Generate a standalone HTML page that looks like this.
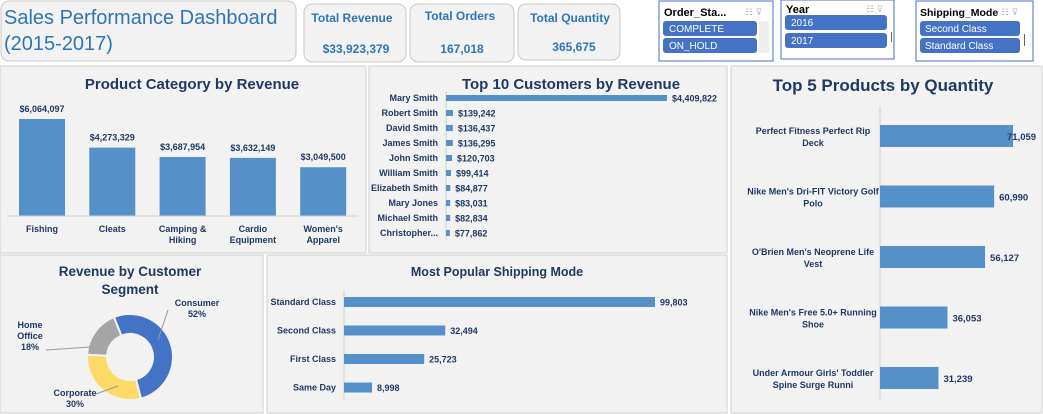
<!DOCTYPE html>
<html><head><meta charset="utf-8">
<style>
html,body{margin:0;padding:0;background:#fff;width:1043px;height:414px;overflow:hidden;font-family:"Liberation Sans",sans-serif;}
svg text{font-family:"Liberation Sans",sans-serif;}
</style></head>
<body>
<svg id="s" width="1043" height="414" viewBox="0 0 1043 414" xmlns="http://www.w3.org/2000/svg">
<rect x="0" y="0" width="1043" height="414" fill="#ffffff"/>
<!-- header -->
<g>
<rect x="1" y="1" width="295" height="60" rx="8" fill="#f2f2f2" stroke="#c8c8c8"/>
<text x="4" y="24" font-size="20" fill="#2e75b6">Sales Performance Dashboard</text>
<text x="4" y="50" font-size="20" fill="#2e75b6">(2015-2017)</text>
<g>
<rect x="304" y="4" width="102" height="58" rx="8" fill="#f2f2f2" stroke="#c8c8c8"/>
<text x="352" y="22" font-size="12" font-weight="bold" fill="#2e75b6" text-anchor="middle">Total Revenue</text>
<text x="356" y="53" font-size="12" font-weight="bold" fill="#2e75b6" text-anchor="middle">$33,923,379</text></g>
<g>
<rect x="410" y="4" width="104" height="58" rx="8" fill="#f2f2f2" stroke="#c8c8c8"/>
<text x="460" y="20" font-size="12" font-weight="bold" fill="#2e75b6" text-anchor="middle">Total Orders</text>
<text x="462" y="53" font-size="12" font-weight="bold" fill="#2e75b6" text-anchor="middle">167,018</text></g>
<g>
<rect x="518" y="4" width="102" height="56" rx="8" fill="#f2f2f2" stroke="#c8c8c8"/>
<text x="570" y="22" font-size="12" font-weight="bold" fill="#2e75b6" text-anchor="middle">Total Quantity</text>
<text x="574" y="51" font-size="12" font-weight="bold" fill="#2e75b6" text-anchor="middle">365,675</text></g>
<g>
<rect x="659" y="1" width="114" height="60" fill="#fff" stroke="#4472c4"/>
<text x="664" y="16" font-size="11" font-weight="bold" fill="#000">Order_Sta...</text>
<text x="745" y="15" font-size="9" fill="#bbb">☷ ⊽</text>
<rect x="663" y="21" width="94" height="15" rx="3" fill="#4472c4"/>
<text x="669" y="32" font-size="10" fill="#fff">COMPLETE</text>
<rect x="663" y="38" width="94" height="15" rx="3" fill="#4472c4"/>
<text x="669" y="49" font-size="10" fill="#fff">ON_HOLD</text>
<rect x="759" y="21" width="10" height="32" fill="#eee"/></g>
<g>
<rect x="781" y="0" width="113" height="59" fill="#fff" stroke="#4472c4"/>
<text x="786" y="13" font-size="11" font-weight="bold" fill="#000">Year</text>
<text x="866" y="12" font-size="9" fill="#bbb">☷ ⊽</text>
<rect x="785" y="15" width="102" height="15" rx="3" fill="#4472c4"/>
<text x="791" y="26" font-size="10" fill="#fff">2016</text>
<rect x="785" y="33" width="102" height="15" rx="3" fill="#4472c4"/>
<text x="791" y="44" font-size="10" fill="#fff">2017</text>
<rect x="891" y="32" width="1" height="10" fill="#666"/></g>
<g>
<rect x="916" y="1" width="117" height="60" fill="#fff" stroke="#4472c4"/>
<text x="920" y="16" font-size="10.5" font-weight="bold" fill="#000">Shipping_Mode</text>
<text x="1001" y="15" font-size="9" fill="#bbb">☷ ⊽</text>
<rect x="920" y="21" width="100" height="15" rx="3" fill="#4472c4"/>
<text x="925" y="32" font-size="10" fill="#fff">Second Class</text>
<rect x="920" y="38" width="100" height="15" rx="3" fill="#4472c4"/>
<text x="925" y="49" font-size="10" fill="#fff">Standard Class</text>
<rect x="1024" y="34" width="1" height="12" fill="#666"/></g>
</g>
<!-- panels -->
<rect x="0" y="66" width="366" height="187" fill="#f2f2f2" stroke="#d0d0d0"/>
<rect x="369" y="66" width="358" height="187" fill="#f2f2f2" stroke="#d0d0d0"/>
<rect x="731" y="66" width="311" height="347" fill="#f2f2f2" stroke="#d0d0d0"/>
<rect x="0" y="255" width="263" height="158" fill="#f2f2f2" stroke="#d0d0d0"/>
<rect x="267" y="255" width="460" height="158" fill="#f2f2f2" stroke="#d0d0d0"/>
<text x="192" y="89" font-size="15" font-weight="bold" fill="#203864" text-anchor="middle">Product Category by Revenue</text>
<text x="571" y="89" font-size="15" font-weight="bold" fill="#203864" text-anchor="middle">Top 10 Customers by Revenue</text>
<text x="883" y="91" font-size="17" font-weight="bold" fill="#203864" text-anchor="middle">Top 5 Products by Quantity</text>
<text x="130" y="276" font-size="13.5" font-weight="bold" fill="#203864" text-anchor="middle">Revenue by Customer</text>
<text x="130" y="294" font-size="13.5" font-weight="bold" fill="#203864" text-anchor="middle">Segment</text>
<text x="497" y="276" font-size="12.5" font-weight="bold" fill="#203864" text-anchor="middle">Most Popular Shipping Mode</text>
<g id="g1"></g><g id="g2"></g><g id="g3"></g><g id="g4"></g><g id="g5"></g>
</svg>
<script>
const catNames=[["Fishing"],["Cleats"],["Camping &","Hiking"],["Cardio","Equipment"],["Women's","Apparel"]];
const catValues=[6064097,4273329,3687954,3632149,3049500];
const custNames=["Mary Smith","Robert Smith","David Smith","James Smith","John Smith","William Smith","Elizabeth Smith","Mary Jones","Michael Smith","Christopher..."];
const custValues=[4409822,139242,136437,136295,120703,99414,84877,83031,82834,77862];
const prodNames=[["Perfect Fitness Perfect Rip","Deck"],["Nike Men's Dri-FIT Victory Golf","Polo"],["O'Brien Men's Neoprene Life","Vest"],["Nike Men's Free 5.0+ Running","Shoe"],["Under Armour Girls' Toddler","Spine Surge Runni"]];
const prodValues=[71059,60990,56127,36053,31239];
const shipNames=["Standard Class","Second Class","First Class","Same Day"];
const shipValues=[99803,32494,25723,8998];
const segNames=["Consumer","Corporate","Home Office"];
const segValues=[52,30,18];

const NS="http://www.w3.org/2000/svg";
const BAR="#5590c8",DK="#203864";
function mk(g,tag,a,txt){const e=document.createElementNS(NS,tag);for(const k in a)e.setAttribute(k,a[k]);if(txt!==undefined)e.textContent=txt;document.getElementById(g).appendChild(e);return e;}
const fmt=v=>v.toLocaleString("en-US");

// Chart 1: column
const y1=v=>216-v/6064097*97;const x1=i=>42+i*70.3;
catValues.forEach((v,i)=>{
 const r=mk("g1","rect",{x:x1(i)-23,y:y1(v),width:46,height:216-y1(v),fill:BAR});
 
 
 const t=mk("g1","text",{x:x1(i),y:y1(v)-7,"font-size":9,"font-weight":"bold",fill:DK,"text-anchor":"middle"},"$"+fmt(v));
 
 
 catNames[i].forEach((l,j)=>{const c=mk("g1","text",{x:x1(i),y:232+j*11,"font-size":9,"font-weight":"bold",fill:DK,"text-anchor":"middle"},l);
 
 });
});
mk("g1","line",{x1:7,x2:358,y1:216,y2:216,stroke:"#d0d0d0"});

// Chart 2: customers
const x2=v=>446+v/4409822*221;const y2=i=>98+i*15;
mk("g2","line",{x1:446,x2:446,y1:91,y2:240,stroke:"#d0d0d0"});
custValues.forEach((v,i)=>{
 const r=mk("g2","rect",{x:446,y:y2(i)-3,width:x2(v)-446,height:6,fill:BAR});
 
 
 const t=mk("g2","text",{x:x2(v)+5,y:y2(i)+3.5,"font-size":9,"font-weight":"bold",fill:DK},"$"+fmt(v));
 
 
 const c=mk("g2","text",{x:438,y:y2(i)+3,"font-size":9,"font-weight":"bold",fill:DK,"text-anchor":"end"},custNames[i]);
 
 
});

// Chart 3: products
const x3=v=>880+v/71059*133;const y3=i=>136+i*60.5;
mk("g3","line",{x1:880,x2:880,y1:106,y2:400,stroke:"#d0d0d0"});
prodValues.forEach((v,i)=>{
 const r=mk("g3","rect",{x:880,y:y3(i)-11,width:x3(v)-880,height:22,fill:BAR});
 
 
 const t=mk("g3","text",{x:i==0?x3(v)-6:x3(v)+5,y:y3(i)+4,"font-size":9.5,"font-weight":"bold",fill:DK},fmt(v));
 
 
 prodNames[i].forEach((l,j)=>{const c=mk("g3","text",{x:813,y:y3(i)-2+j*12,"font-size":9,"font-weight":"bold",fill:DK,"text-anchor":"middle"},l);
 
 });
});

// Chart 4: shipping
const x4=v=>344+v/99803*311;const y4=i=>302+i*28.5;
mk("g4","line",{x1:344,x2:344,y1:290,y2:400,stroke:"#d0d0d0"});
shipValues.forEach((v,i)=>{
 const r=mk("g4","rect",{x:344,y:y4(i)-5,width:x4(v)-344,height:10,fill:BAR});
 
 
 const t=mk("g4","text",{x:x4(v)+5,y:y4(i)+3.5,"font-size":9,"font-weight":"bold",fill:DK},fmt(v));
 
 
 const c=mk("g4","text",{x:336,y:y4(i)+3,"font-size":9,"font-weight":"bold",fill:DK,"text-anchor":"end"},shipNames[i]);
 
 
});

// Chart 5: donut
const cx=130,cy=357,R=43,r0=23,cols=["#4472c4","#ffd966","#a5a5a5"];
const tot=segValues.reduce((a,b)=>a+b,0);let ang=-22;
const pt=(a,rr)=>[cx+rr*Math.sin(a*Math.PI/180),cy-rr*Math.cos(a*Math.PI/180)];
segValues.forEach((v,i)=>{
 const a0=ang,a1=ang+v/tot*360;ang=a1;
 const [ax,ay]=pt(a0,R),[bx,by]=pt(a1,R),[cx2,cy2]=pt(a1,r0),[dx,dy]=pt(a0,r0);const lg=a1-a0>180?1:0;
 const p=mk("g5","path",{d:`M${ax},${ay}A${R},${R} 0 ${lg} 1 ${bx},${by}L${cx2},${cy2}A${r0},${r0} 0 ${lg} 0 ${dx},${dy}Z`,fill:cols[i],stroke:"#f2f2f2","stroke-width":2});
 
 
});
const lbl=[{x:197,y:306,lx:[168,158],ly:[310,340]},{x:75,y:396,lx:[96,118],ly:[394,386]},{x:40,y:340,lx:[46,90],ly:[350,347]}];
segNames.forEach((n,i)=>{
 const L=lbl[i];
 mk("g5","line",{x1:L.lx[0],y1:L.ly[0],x2:L.lx[1],y2:L.ly[1],stroke:"#999"});
 const lines=i==2?["Home","Office",segValues[i]+"%"]:[n,segValues[i]+"%"];
 const y0=i==2?L.y-12:L.y;
 lines.forEach((l,j)=>{const t=mk("g5","text",{x:i==2?30:L.x,y:y0+j*11,"font-size":9,"font-weight":"bold",fill:DK,"text-anchor":"middle"},l);
 
 });
});
</script>
</body></html>
